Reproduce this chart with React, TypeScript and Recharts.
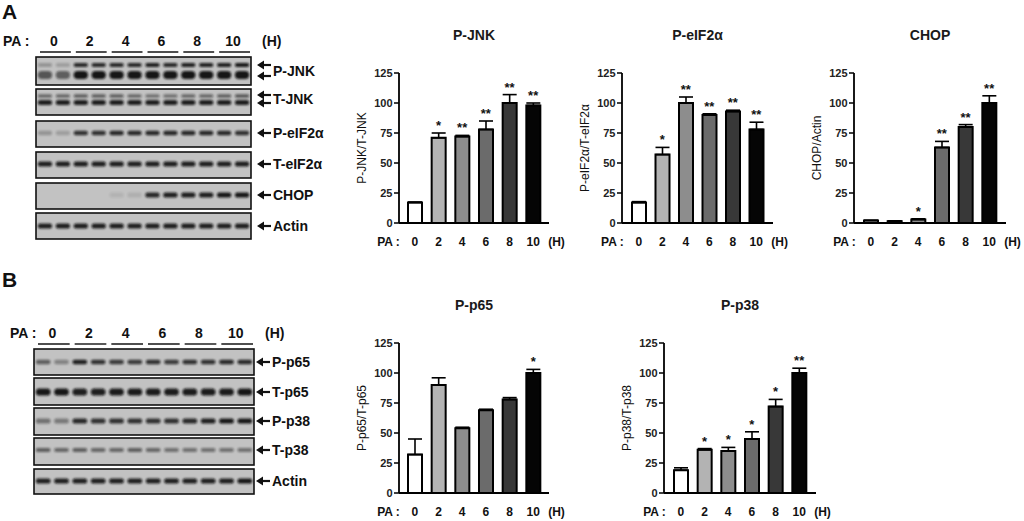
import { ComposedChart, Bar, Cell, ErrorBar, Line, XAxis, YAxis } from "recharts";

const FONT = '"Liberation Sans", Arial, sans-serif';

// ---- bar chart data ----
const HOURS = ["0", "2", "4", "6", "8", "10"];
const Y_TICKS = [0, 25, 50, 75, 100, 125];

const JNK_VALUES = [17, 71, 72, 78, 100, 98];
const JNK_ERRORS = [0.5, 4, 1, 7, 7, 2];
const JNK_STARS = ["", "*", "**", "**", "**", "**"];

const EIF_VALUES = [17, 57, 100, 90, 93, 78];
const EIF_ERRORS = [0.8, 6, 5, 1, 1, 6];
const EIF_STARS = ["", "*", "**", "**", "**", "**"];

const CHOP_VALUES = [2, 1.5, 3, 63, 80, 100];
const CHOP_ERRORS = [0.3, 0.3, 0.5, 5, 2, 6];
const CHOP_STARS = ["", "", "*", "**", "**", "**"];

const P65_VALUES = [32, 90, 54, 69, 78, 100];
const P65_ERRORS = [13, 6, 0.8, 0.8, 1.5, 3];
const P65_STARS = ["", "", "", "", "", "*"];

const P38_VALUES = [19, 36, 35, 45, 72, 100];
const P38_ERRORS = [2, 1, 3, 6, 6, 4];
const P38_STARS = ["", "*", "*", "*", "*", "**"];

// ---- blot band intensities (12 lanes) ----
const PJNK_UPPER = [0.25, 0.2, 0.85, 0.85, 0.85, 0.85, 0.9, 0.85, 0.9, 0.9, 0.9, 0.95];
const PJNK_LOWER = [0.6, 0.55, 0.95, 0.95, 0.95, 0.95, 0.95, 0.95, 0.95, 0.95, 0.95, 0.95];
const TJNK_UPPER = [0.5, 0.5, 0.55, 0.55, 0.55, 0.5, 0.45, 0.45, 0.5, 0.5, 0.55, 0.6];
const TJNK_LOWER = [0.9, 0.9, 0.9, 0.9, 0.9, 0.9, 0.9, 0.9, 0.9, 0.9, 0.9, 0.9];
const PEIF = [0.25, 0.2, 0.8, 0.8, 0.85, 0.85, 0.85, 0.85, 0.85, 0.85, 0.85, 0.8];
const TEIF = [0.9, 0.9, 0.9, 0.9, 0.9, 0.9, 0.9, 0.9, 0.9, 0.9, 0.9, 0.9];
const CHOP_BANDS = [0, 0, 0, 0, 0.08, 0.1, 0.85, 0.9, 0.9, 0.9, 0.95, 0.95];
const ACTIN_A = [0.9, 0.9, 0.9, 0.9, 0.9, 0.9, 0.9, 0.9, 0.9, 0.9, 0.9, 0.9];
const PP65 = [0.55, 0.35, 0.9, 0.8, 0.75, 0.75, 0.8, 0.75, 0.8, 0.8, 0.85, 0.85];
const TP65 = [0.95, 0.95, 0.9, 0.9, 0.92, 0.92, 0.92, 0.92, 0.92, 0.92, 0.92, 0.95];
const PP38 = [0.45, 0.4, 0.85, 0.8, 0.8, 0.8, 0.8, 0.8, 0.85, 0.9, 0.95, 0.95];
const TP38 = [0.55, 0.5, 0.55, 0.5, 0.5, 0.55, 0.5, 0.45, 0.45, 0.45, 0.45, 0.45];
const ACTIN_B = [0.9, 0.9, 0.9, 0.9, 0.9, 0.9, 0.9, 0.9, 0.9, 0.9, 0.9, 0.95];

const BAR_FILLS = ["#ffffff", "#b3b3b3", "#8d8d8d", "#6b6b6b", "#383838", "#050505"];

const buildData = (values: number[], errors: number[], stars: string[]) =>
    HOURS.map((h, i) => ({
        h,
        value: values[i],
        err: [0, errors[i]],
        top: values[i] + errors[i],
        star: stars[i],
    }));

const PLOT_H = 150;
const Y_W = 60;
const M_TOP = 10;
const X_H = 35;

const HourTick = ({ x, y, payload }: any) => {
    const style = { fontFamily: FONT, fontSize: 12, fontWeight: 700, fill: "#111" };
    return (
        <g>
            {payload.value === HOURS[0] && (
                <text x={x - 15} y={y + 15} textAnchor="end" style={style}>
                    PA :
                </text>
            )}
            <text x={x} y={y + 15} textAnchor="middle" style={style}>
                {payload.value}
            </text>
            {payload.value === HOURS[HOURS.length - 1] && (
                <text x={x + 15} y={y + 15} textAnchor="start" style={style}>
                    (H)
                </text>
            )}
        </g>
    );
};

interface PanelProps {
    data: ReturnType<typeof buildData>;
    axisX: number;
    plotRight: number;
    plotTop: number;
    pad: number;
}

const BarPanel = ({ data, axisX, plotRight, plotTop, pad }: PanelProps) => {
    const plotW = plotRight - axisX;
    const width = Y_W + plotW + 40;
    const height = M_TOP + PLOT_H + X_H;
    return (
        <div style={{ position: "absolute", left: axisX - Y_W, top: plotTop - M_TOP, width, height }}>
            <ComposedChart
                width={width}
                height={height}
                data={data}
                margin={{ top: M_TOP, right: 40, bottom: 0, left: 0 }}
                barCategoryGap={0}
            >
                <XAxis
                    dataKey="h"
                    interval={0}
                    height={X_H}
                    padding={{ left: pad, right: pad }}
                    axisLine={{ stroke: "#000", strokeWidth: 1.8 }}
                    tickLine={false}
                    tick={<HourTick />}
                />
                <YAxis
                    type="number"
                    domain={[0, 125]}
                    ticks={Y_TICKS}
                    interval={0}
                    width={Y_W}
                    tickSize={5}
                    tickMargin={1.5}
                    axisLine={{ stroke: "#000", strokeWidth: 1.8 }}
                    tickLine={{ stroke: "#000", strokeWidth: 1.5 }}
                    tick={{ fontFamily: FONT, fontSize: 11, fontWeight: 700, fill: "#222" }}
                />
                <Bar dataKey="value" barSize={14} stroke="#000" strokeWidth={2} isAnimationActive={false}>
                    {data.map((_, i) => (
                        <Cell key={i} fill={BAR_FILLS[i]} />
                    ))}
                    <ErrorBar dataKey="err" width={7} strokeWidth={1.6} stroke="#000" direction="y" />
                </Bar>
                <Line
                    dataKey="top"
                    stroke="none"
                    dot={false}
                    activeDot={false}
                    isAnimationActive={false}
                    label={(p: any) => {
                        const s = data[p.index]?.star;
                        if (!s) return <g key={`s${p.index}`} />;
                        return (
                            <text
                                key={`s${p.index}`}
                                x={p.x}
                                y={p.y - 3}
                                textAnchor="middle"
                                style={{ fontFamily: FONT, fontSize: 13, fontWeight: 700, fill: "#111" }}
                            >
                                {s}
                            </text>
                        );
                    }}
                />
            </ComposedChart>
        </div>
    );
};

// ---- western blot drawing ----
interface BandDef {
    y: number;
    h: number;
    ints: number[];
}
interface RowDef {
    name: string;
    top: number;
    bottom: number;
    bands: BandDef[];
    arrows: number[];
}

const BlotPanel = ({
    x0,
    x1,
    rows,
    headerY,
    paX,
    arrowX,
}: {
    x0: number;
    x1: number;
    rows: RowDef[];
    headerY: number;
    paX: number;
    arrowX: number;
}) => {
    const laneW = (x1 - x0) / 12;
    const txt = { fontFamily: FONT, fontWeight: 700, fill: "#111" } as const;
    return (
        <g>
            <text x={paX} y={headerY} dominantBaseline="central" fontSize={14} style={txt}>
                PA :
            </text>
            {HOURS.map((h, g) => {
                const gx0 = x0 + g * 2 * laneW;
                const cx = gx0 + laneW;
                return (
                    <g key={h}>
                        <text x={cx} y={headerY} textAnchor="middle" dominantBaseline="central" fontSize={14} style={txt}>
                            {h}
                        </text>
                        <line x1={gx0 + 4} x2={gx0 + 2 * laneW - 1} y1={headerY + 11} y2={headerY + 11} stroke="#222" strokeWidth={1.6} />
                    </g>
                );
            })}
            <text x={x1 + 11} y={headerY} dominantBaseline="central" fontSize={14} style={txt}>
                (H)
            </text>
            {rows.map((r) => (
                <g key={r.name}>
                    <rect x={x0} y={r.top} width={x1 - x0} height={r.bottom - r.top} fill="#c2c2c2" stroke="#111" strokeWidth={1.6} />
                    {r.bands.map((b, bi) =>
                        b.ints.map((v, li) =>
                            v > 0 ? (
                                <rect
                                    key={`${bi}-${li}`}
                                    x={x0 + li * laneW + 1.8}
                                    y={b.y - b.h / 2}
                                    width={laneW - 3.6}
                                    height={b.h}
                                    rx={b.h / 2}
                                    fill="#0e0e0e"
                                    opacity={v}
                                    filter="url(#blur)"
                                />
                            ) : null
                        )
                    )}
                    {r.arrows.map((ay, ai) => (
                        <g key={ai}>
                            <path d={`M${arrowX},${ay} L${arrowX + 7},${ay - 4.5} L${arrowX + 7},${ay + 4.5} Z`} fill="#111" />
                            <line x1={arrowX + 5} x2={arrowX + 14} y1={ay} y2={ay} stroke="#111" strokeWidth={2.2} />
                        </g>
                    ))}
                    <text
                        x={arrowX + 16}
                        y={(r.arrows[0] + r.arrows[r.arrows.length - 1]) / 2}
                        dominantBaseline="central"
                        fontSize={14}
                        style={txt}
                    >
                        {r.name}
                    </text>
                </g>
            ))}
        </g>
    );
};

const ROWS_A: RowDef[] = [
    { name: "P-JNK", top: 57, bottom: 85, bands: [{ y: 65, h: 4, ints: PJNK_UPPER }, { y: 75, h: 8, ints: PJNK_LOWER }], arrows: [65, 76] },
    { name: "T-JNK", top: 89, bottom: 115, bands: [{ y: 96, h: 3.5, ints: TJNK_UPPER }, { y: 102.5, h: 5, ints: TJNK_LOWER }], arrows: [95, 103] },
    { name: "P-eIF2α", top: 121, bottom: 147, bands: [{ y: 133, h: 4.5, ints: PEIF }], arrows: [133] },
    { name: "T-eIF2α", top: 152, bottom: 178, bands: [{ y: 164, h: 5, ints: TEIF }], arrows: [164] },
    { name: "CHOP", top: 183, bottom: 209, bands: [{ y: 195, h: 5, ints: CHOP_BANDS }], arrows: [195] },
    { name: "Actin", top: 213, bottom: 239, bands: [{ y: 226, h: 5, ints: ACTIN_A }], arrows: [226] },
];

const ROWS_B: RowDef[] = [
    { name: "P-p65", top: 349, bottom: 375, bands: [{ y: 362, h: 4.5, ints: PP65 }], arrows: [362] },
    { name: "T-p65", top: 378, bottom: 405, bands: [{ y: 392, h: 7, ints: TP65 }], arrows: [392] },
    { name: "P-p38", top: 408, bottom: 435, bands: [{ y: 421, h: 5, ints: PP38 }], arrows: [421] },
    { name: "T-p38", top: 438, bottom: 465, bands: [{ y: 450, h: 4, ints: TP38 }], arrows: [450] },
    { name: "Actin", top: 469, bottom: 494, bands: [{ y: 481, h: 5, ints: ACTIN_B }], arrows: [481] },
];

const PANELS = [
    { title: "P-JNK", yLabel: "P-JNK/T-JNK", data: buildData(JNK_VALUES, JNK_ERRORS, JNK_STARS), axisX: 399, plotRight: 549, plotTop: 73, pad: 4 },
    { title: "P-eIF2α", yLabel: "P-eIF2α/T-eIF2α", data: buildData(EIF_VALUES, EIF_ERRORS, EIF_STARS), axisX: 622, plotRight: 773, plotTop: 73, pad: 5 },
    { title: "CHOP", yLabel: "CHOP/Actin", data: buildData(CHOP_VALUES, CHOP_ERRORS, CHOP_STARS), axisX: 854, plotRight: 1006, plotTop: 73, pad: 5 },
    { title: "P-p65", yLabel: "P-p65/T-p65", data: buildData(P65_VALUES, P65_ERRORS, P65_STARS), axisX: 399, plotRight: 549, plotTop: 343, pad: 4 },
    { title: "P-p38", yLabel: "P-p38/T-p38", data: buildData(P38_VALUES, P38_ERRORS, P38_STARS), axisX: 664, plotRight: 816, plotTop: 343, pad: 5 },
];

export default function App() {
    return (
        <div style={{ position: "absolute", left: 0, top: 0, width: 1024, height: 521, background: "#fff", overflow: "hidden" }}>
            <svg width={1024} height={521} style={{ position: "absolute", left: 0, top: 0 }}>
                <defs>
                    <filter id="blur" x="-30%" y="-80%" width="160%" height="260%">
                        <feGaussianBlur stdDeviation="0.8" />
                    </filter>
                </defs>
                <text x={2} y={19} fontSize={21} style={{ fontFamily: FONT, fontWeight: 700, fill: "#111" }}>
                    A
                </text>
                <text x={2} y={287} fontSize={21} style={{ fontFamily: FONT, fontWeight: 700, fill: "#111" }}>
                    B
                </text>
                <BlotPanel x0={36} x1={251} rows={ROWS_A} headerY={41} paX={3} arrowX={257} />
                <BlotPanel x0={34} x1={254} rows={ROWS_B} headerY={333} paX={10} arrowX={256} />
                {PANELS.map((p) => {
                    const cx = (p.axisX + p.plotRight) / 2;
                    const ly = p.plotTop + PLOT_H / 2;
                    return (
                        <g key={p.title}>
                            <text
                                x={cx}
                                y={p.plotTop - 38}
                                textAnchor="middle"
                                dominantBaseline="central"
                                fontSize={14}
                                style={{ fontFamily: FONT, fontWeight: 700, fill: "#1a1a1a" }}
                            >
                                {p.title}
                            </text>
                            <text
                                x={p.axisX - 37}
                                y={ly}
                                textAnchor="middle"
                                dominantBaseline="central"
                                transform={`rotate(-90 ${p.axisX - 37} ${ly})`}
                                fontSize={12}
                                style={{ fontFamily: FONT, fill: "#111" }}
                            >
                                {p.yLabel}
                            </text>
                        </g>
                    );
                })}
            </svg>
            {PANELS.map((p) => (
                <BarPanel key={p.title} data={p.data} axisX={p.axisX} plotRight={p.plotRight} plotTop={p.plotTop} pad={p.pad} />
            ))}
        </div>
    );
}
